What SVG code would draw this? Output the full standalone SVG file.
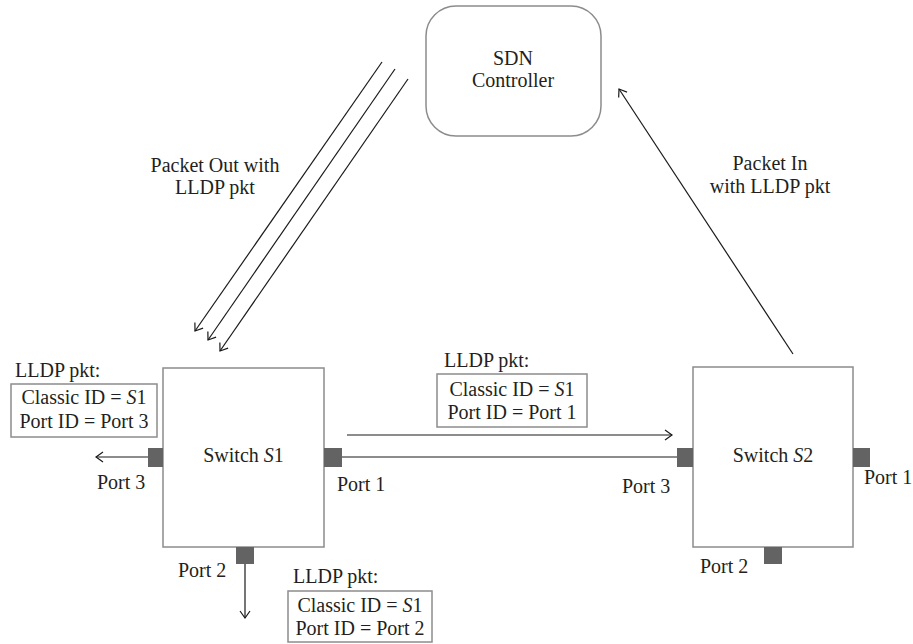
<svg xmlns="http://www.w3.org/2000/svg" width="913" height="644" viewBox="0 0 913 644">
  <style>
    text { font-family: "Times New Roman", Times, "Liberation Serif", serif; font-size: 20px; fill: #231f20; }
    .mid { text-anchor: middle; }
    .it { font-style: italic; }
    .box { fill: #ffffff; stroke: #8c8c8c; stroke-width: 1.5; }
    .port { fill: #636363; }
    .wire { stroke: #1a1a1a; stroke-width: 1.2; fill: none; }
    .arrow { stroke: #1a1a1a; stroke-width: 1.2; fill: none; marker-end: url(#chevron); }
  </style>
  <defs>
    <marker id="chevron" markerUnits="userSpaceOnUse" viewBox="-10 -7 12 14" refX="0" refY="0" markerWidth="12" markerHeight="14" orient="auto">
      <path d="M-7,-5 L0,0 L-7,5" fill="none" stroke="#1a1a1a" stroke-width="1.2"/>
    </marker>
  </defs>

  <rect width="913" height="644" fill="#ffffff"/>

  <!-- connectors -->
  <g id="connectors">
    <!-- Packet Out (controller to S1) -->
    <line class="arrow" x1="382" y1="62" x2="195" y2="331"/>
    <line class="arrow" x1="395" y1="69" x2="208" y2="340"/>
    <line class="arrow" x1="408" y1="79" x2="220" y2="351"/>
    <!-- Packet In (S2 to controller) -->
    <line class="arrow" x1="793" y1="354" x2="619" y2="89"/>
    <!-- link S1 Port 1 to S2 Port 3 -->
    <line class="wire" x1="342" y1="457" x2="677" y2="457"/>
    <line class="arrow" x1="347" y1="435" x2="672" y2="435"/>
    <!-- S1 Port 3 outgoing -->
    <line class="arrow" x1="148" y1="457" x2="96" y2="457"/>
    <!-- S1 Port 2 outgoing -->
    <line class="arrow" x1="245" y1="564" x2="245" y2="618"/>
  </g>

  <g id="controller">
    <rect class="box" x="426" y="6" width="175" height="130" rx="30" ry="30"/>
    <text class="mid" x="513" y="65">SDN</text>
    <text class="mid" x="513" y="87">Controller</text>
  </g>

  <g id="label-packet-out">
    <text class="mid" x="215" y="172">Packet Out with</text>
    <text class="mid" x="215" y="194">LLDP pkt</text>
  </g>

  <g id="label-packet-in">
    <text class="mid" x="770" y="170">Packet In</text>
    <text class="mid" x="770" y="193">with LLDP pkt</text>
  </g>

  <g id="switch-s1">
    <rect class="box" x="163" y="368" width="161" height="179"/>
    <text class="mid" x="243.5" y="462">Switch <tspan class="it">S</tspan>1</text>
    <rect class="port" x="148" y="448" width="15" height="19"/>
    <rect class="port" x="324" y="448" width="18" height="19"/>
    <rect class="port" x="236" y="547" width="18" height="17"/>
    <text x="97" y="489">Port 3</text>
    <text x="337" y="491">Port 1</text>
    <text x="178" y="577">Port 2</text>
  </g>

  <g id="switch-s2">
    <rect class="box" x="693" y="367" width="160" height="180"/>
    <text class="mid" x="773" y="462">Switch <tspan class="it">S</tspan>2</text>
    <rect class="port" x="677" y="448" width="16" height="19"/>
    <rect class="port" x="853" y="448" width="17" height="19"/>
    <rect class="port" x="764" y="547" width="18" height="17"/>
    <text x="622" y="493">Port 3</text>
    <text x="864" y="484">Port 1</text>
    <text x="700" y="573">Port 2</text>
  </g>

  <g id="lldp-port3">
    <text x="15" y="377">LLDP pkt:</text>
    <rect class="box" x="11" y="384" width="146" height="53"/>
    <text class="mid" x="84" y="404">Classic ID = <tspan class="it">S</tspan>1</text>
    <text class="mid" x="84" y="428">Port ID = Port 3</text>
  </g>

  <g id="lldp-port1">
    <text x="444" y="367">LLDP pkt:</text>
    <rect class="box" x="437" y="374" width="150" height="53"/>
    <text class="mid" x="512" y="396">Classic ID = <tspan class="it">S</tspan>1</text>
    <text class="mid" x="512" y="419">Port ID = Port 1</text>
  </g>

  <g id="lldp-port2">
    <text x="293" y="583">LLDP pkt:</text>
    <rect class="box" x="288" y="591" width="144" height="51"/>
    <text class="mid" x="360" y="612">Classic ID = <tspan class="it">S</tspan>1</text>
    <text class="mid" x="360" y="635">Port ID = Port 2</text>
  </g>
</svg>
